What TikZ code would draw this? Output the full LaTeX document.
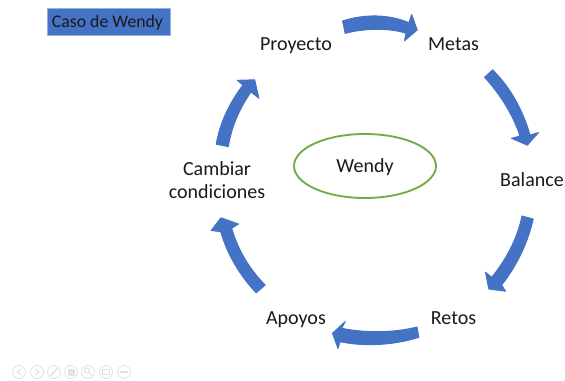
\documentclass[tikz,border=0pt]{standalone}
\usepackage{fontspec}
\usetikzlibrary{shapes.geometric}
\setmainfont{Carlito}
\definecolor{blueA}{HTML}{4472C4}
\definecolor{greenA}{HTML}{70AD47}
\definecolor{inkA}{HTML}{1A1A1A}
\definecolor{iconA}{HTML}{E2E2E2}
\tikzset{
  lbl/.style={text=inkA,font=\fontsize{15}{17.3}\selectfont,align=center,inner sep=0pt,anchor=base},
  blockarrow/.style={fill=blueA,draw=blueA,line width=0.7pt,line join=round},
  navicon/.style={draw=iconA,line width=0.6pt,circle,minimum size=9.75pt,inner sep=0pt},
  navmark/.style={draw=iconA,line width=0.7pt}
}
\begin{document}
\begin{tikzpicture}[x=0.75pt,y=-0.75pt]
\useasboundingbox (0,0) rectangle (565,381);
\fill[white] (0,0) rectangle (565,381);
% title
\node[name=title,fill=blueA,draw=blueA!55!white,line width=0.5pt,minimum width=92.25pt,minimum height=20.25pt,inner sep=0pt] at (108.5,21.5) {};
\node[name=titletext,anchor=base,inner sep=0pt,text=inkA,font=\fontsize{13.3}{15}\selectfont] at (107.5,27.5) {Caso de Wendy};
% centre
\node[name=wendy,ellipse,draw=greenA,line width=1.4pt,minimum width=106.5pt,minimum height=48pt] at (365,166) {};
\node[lbl,name=wendytext] at (365,173) {Wendy};
% labels
\node[lbl,name=proyecto] at (296,51) {Proyecto};
\node[lbl,name=metas] at (453.5,50.5) {Metas};
\node[lbl,name=balance] at (532,187) {Balance};
\node[lbl,name=retos] at (453.5,324.5) {Retos};
\node[lbl,name=apoyos] at (296,324.5) {Apoyos};
\node[lbl,name=cambiar] at (217,175.7) {Cambiar};
\node[lbl,name=condiciones] at (217,199) {condiciones};
% block arrows
\fill[blockarrow] (342.6,21) .. controls (365,13.5) and (390,14.5) .. (409,22.7) -- (411.7,14.5) -- (417.2,30) -- (404.5,40.8) -- (406,33.3) .. controls (390,28) and (365,28) .. (345.2,33.4) -- cycle;
\draw[blockarrow] (492.7,69.8) .. controls (510,87) and (523,110) .. (530,135) -- (538.5,132.6) -- (527.3,145.2) -- (511.5,138.3) -- (520,136) .. controls (513,115) and (500,94) .. (484.5,77.3) -- cycle;
\draw[blockarrow] (533.2,219) .. controls (528,243) and (516,267) .. (501.7,285) -- (505.5,291.2) -- (488.8,289) -- (485.5,272.2) -- (491.7,277.3) .. controls (505,261) and (517,240) .. (522,216) -- cycle;
\draw[blockarrow] (418.9,337.3) .. controls (395,345) and (365,347) .. (340,341.7) -- (338,348.5) -- (332.5,333.3) -- (345.2,321.5) -- (341.7,328.3) .. controls (365,333) and (393,333) .. (417,327) -- cycle;
\draw[blockarrow] (256.2,292.8) .. controls (240,276) and (227,254) .. (220.7,231.7) -- (211.2,230.5) -- (220.9,217.8) -- (238.5,224) -- (231.7,228.3) .. controls (238,250) and (250,270) .. (265.2,285) -- cycle;
\draw[blockarrow] (216.2,144.3) .. controls (220,122) and (230,102) .. (243,85) -- (237.2,80.3) -- (254.7,79.8) -- (258.9,98.2) -- (251,92) .. controls (240,108) and (232,125) .. (228.3,146.6) -- cycle;
% presentation controls
\foreach \n/\x in {a/19,b/37,c/54,d/71,e/88,f/106,g/124}{
  \node[navicon,name=nav\n] at (\x,372) {};
}
\draw[navmark] (21,369) -- (17.5,372) -- (21,375);
\draw[navmark] (35.5,369) -- (39,372) -- (35.5,375);
\draw[navmark,line width=1.1pt] (50.5,376) -- (57.5,368);
\draw[navmark,fill=iconA] (68,369) rectangle (74,375);
\draw[navmark,line width=0.8pt] (87,370.5) circle (2.5) (89,372.5) -- (92,375.5);
\draw[navmark] (102.5,369.5) rectangle (109.5,374.5);
\draw[navmark,line width=0.9pt] (120,372) -- (128,372);
\end{tikzpicture}
\end{document}
